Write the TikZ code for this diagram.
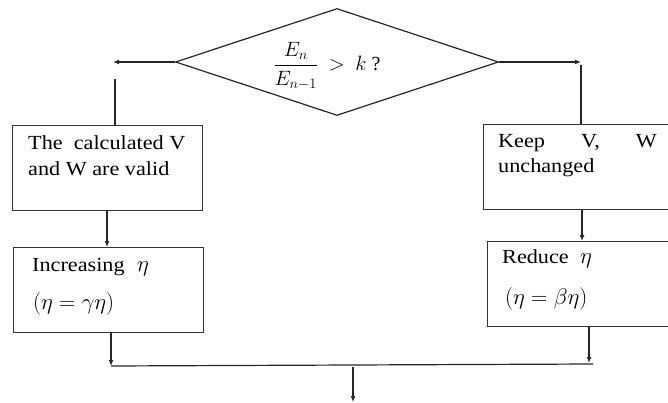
\documentclass[tikz,border=0pt]{standalone}
\usepackage{fontspec}
\setmainfont{Liberation Serif}
\usetikzlibrary{shapes.geometric,arrows.meta}
\newcommand{\sx}[1]{\scalebox{1.11}[1]{#1}}
\newcommand{\mx}[1]{\scalebox{1.09}{#1}}
\begin{document}
\begin{tikzpicture}[x=1pt,y=-1pt,
  box/.style={draw=black!80,line width=1.2pt,rectangle,inner sep=0pt,anchor=north west},
  txt/.style={anchor=base west,inner sep=0pt,font=\fontsize{20}{24}\selectfont},
  mth/.style={anchor=base west,inner sep=0pt,font=\fontsize{20.74}{25}\selectfont},
  conn/.style={draw=black!85,line width=1.2pt},
  arr/.style={conn,-{Latex[length=6pt,width=5pt]}}]
\useasboundingbox (0,0) rectangle (668,403);
\node[draw=black!85, diamond, minimum width=323pt, minimum height=107pt, inner sep=0pt, line width=1.2pt] (dia) at (337,62) {};
\node[inner sep=0pt,font=\fontsize{20}{23}\selectfont] (q) at (327,66) {$\displaystyle\frac{\,E_{n}\,}{E_{n-1}}\ >\ k$ ?};

\node[box,minimum width=190pt,minimum height=85pt] (b1) at (12,125) {};
\node[box,minimum width=190pt,minimum height=85pt] (b2) at (13,247) {};
\node[box,minimum width=190pt,minimum height=85pt] (b3) at (483,124) {};
\node[box,minimum width=190pt,minimum height=85pt] (b4) at (487,241) {};

\node[txt] (t1a) at (28,150) {\sx{The\ \ calculated V}};
\node[txt] (t1b) at (28,175.5) {\sx{and W are valid}};
\node[txt] (t2a) at (32,271) {\sx{Increasing}};
\node[mth] (t2e) at (137,271) {\mx{$\eta$}};
\node[mth] (t2b) at (33,309) {\mx{$(\eta=\gamma\eta)$}};
\node[txt] (t3a) at (498,148) {\sx{\makebox[143pt][s]{Keep V, W}}};
\node[txt] (t3b) at (498,173) {\sx{unchanged}};
\node[txt] (t4a) at (502,263) {\sx{Reduce}};
\node[mth] (t4e) at (580,263) {\mx{$\eta$}};
\node[mth] (t4b) at (505,304) {\mx{$(\eta=\beta\eta)$}};

\coordinate (cl) at (113,62);
\coordinate (cr) at (581,62);
\coordinate (vl) at (115,79);
\coordinate (vr) at (581,65);
\coordinate (xl) at (107,0);
\coordinate (xr) at (582,0);
\coordinate (jl) at (111,366);
\coordinate (jr) at (589,363);
\coordinate (je) at (593,364);
\coordinate (dt) at (353,367);
\coordinate (db) at (353,402);

\draw[arr] (dia.west) -- (cl);
\draw[arr] (dia.east) -- (cr);
\draw[conn] (vl) -- (vl |- b1.north);
\draw[conn] (vr) -- (vr |- b3.north);
\draw[arr] (xl |- b1.south) -- (xl |- b2.north);
\draw[arr] (xr |- b3.south) -- (xr |- b4.north);
\draw[arr] (jl |- b2.south) -- (jl);
\draw[arr] (jr |- b4.south) -- (jr);
\draw[conn] (jl) -- (je);
\draw[arr] (dt) -- (db);
\end{tikzpicture}
\end{document}
